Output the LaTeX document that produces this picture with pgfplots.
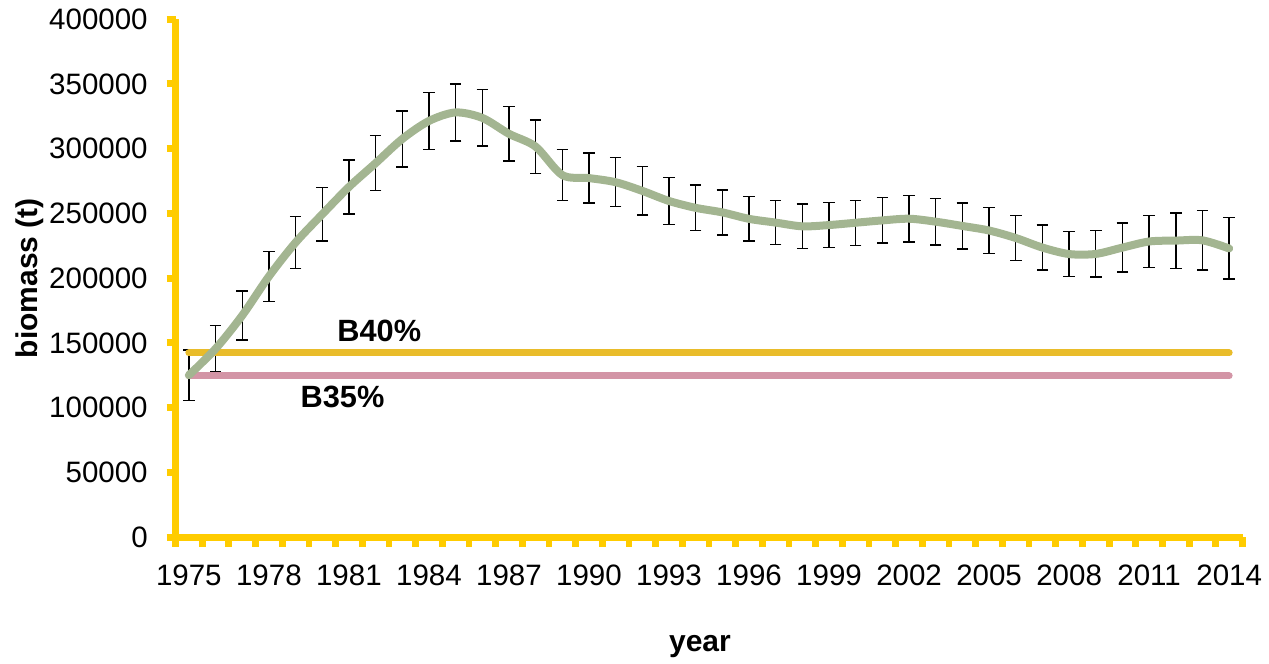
\documentclass[border=0pt]{standalone}
\usepackage{pgfplots}
\pgfplotsset{compat=1.18}
\usepackage{pgfplotstable}
\usepackage{fontspec}
\setmainfont{Liberation Sans}
\definecolor{axisyellow}{RGB}{255,204,0}
\definecolor{biogreen}{RGB}{163,181,145}
\definecolor{bgold}{RGB}{233,188,42}
\definecolor{bpink}{RGB}{211,149,166}
\pgfplotstableread{
year y err
1975 125000 19600
1976 145400 17800
1977 171100 18900
1978 201300 19500
1979 227500 19900
1980 249300 20600
1981 270400 21000
1982 288800 21300
1983 307500 21600
1984 321400 21800
1985 328000 22000
1986 323800 21800
1987 311500 21000
1988 301600 20600
1989 279600 19800
1990 277300 19400
1991 274100 19000
1992 267400 18600
1993 259600 18000
1994 254300 17700
1995 250800 17400
1996 245800 17200
1997 242900 17000
1998 240000 17300
1999 241000 17200
2000 242800 17400
2001 244600 17600
2002 245900 17900
2003 243600 18000
2004 240300 17800
2005 236800 17700
2006 231000 17600
2007 223600 17400
2008 218600 17200
2009 218700 17900
2010 223600 18900
2011 228300 20200
2012 229000 21400
2013 229200 23000
2014 222900 23700
}\biodata
\begin{document}
\begin{tikzpicture}
\path[use as bounding box] (0,0) rectangle (507.6pt,265.2pt);
\begin{axis}[
  at={(70.2pt,50.4pt)}, anchor=south west,
  scale only axis, width=426.8pt, height=207.1pt,
  xmin=1974.5, xmax=2014.5, ymin=0, ymax=400000,
  axis lines=left,
  axis line style={-, line width=2.8pt, color=axisyellow},
  xtick={1975,1978,...,2014},
  minor xtick={1974.5,1975.5,...,2014.5},
  ytick={0,50000,...,400000},
  tick align=outside,
  major tick length=3.6pt,
  minor tick length=3.8pt,
  major x tick style={draw=none},
  minor x tick style={draw=axisyellow, line width=2.7pt},
  ytick style={draw=axisyellow, line width=2.8pt},
  scaled y ticks=false, scaled x ticks=false,
  /pgf/number format/.cd, fixed, precision=0, 1000 sep={}, assume math mode=true,
  /pgfplots/.cd,
  tick label style={font=\fontsize{11.8}{14}\selectfont, text=black},
  yticklabel style={xshift=-4pt},
  xticklabel style={yshift=-4pt},
  xlabel={year}, ylabel={biomass (t)},
  label style={font=\fontsize{12}{14}\selectfont\bfseries},
  xlabel style={at={(axis description cs:0.4915,-0.2216)}, anchor=base},
  ylabel style={at={(axis description cs:-0.1297,0.5)}, anchor=base},
  clip=false,
]
\addplot[draw=none, forget plot,
  error bars/.cd, y dir=both, y explicit,
  error bar style={draw=black, line width=0.55pt},
  error mark options={rotate=90, mark size=2.3pt, draw=black, line width=0.55pt}]
  table[x=year, y=y, y error=err] {\biodata};
\addplot[bgold, line width=2.8pt, line cap=round] coordinates {(1975,142200) (2014,142200)};
\addplot[bpink, line width=2.8pt, line cap=round] coordinates {(1975,124400) (2014,124400)};
\addplot[biogreen, line width=3.2pt, line cap=round, smooth, no marks] table[x=year, y=y] {\biodata};
\node[anchor=base, font=\fontsize{12.3}{14}\selectfont\bfseries] at (axis cs:1982.14,150900) {B40\%};
\node[anchor=base, font=\fontsize{12.3}{14}\selectfont\bfseries] at (axis cs:1980.76,99700) {B35\%};
\end{axis}
\end{tikzpicture}
\end{document}
